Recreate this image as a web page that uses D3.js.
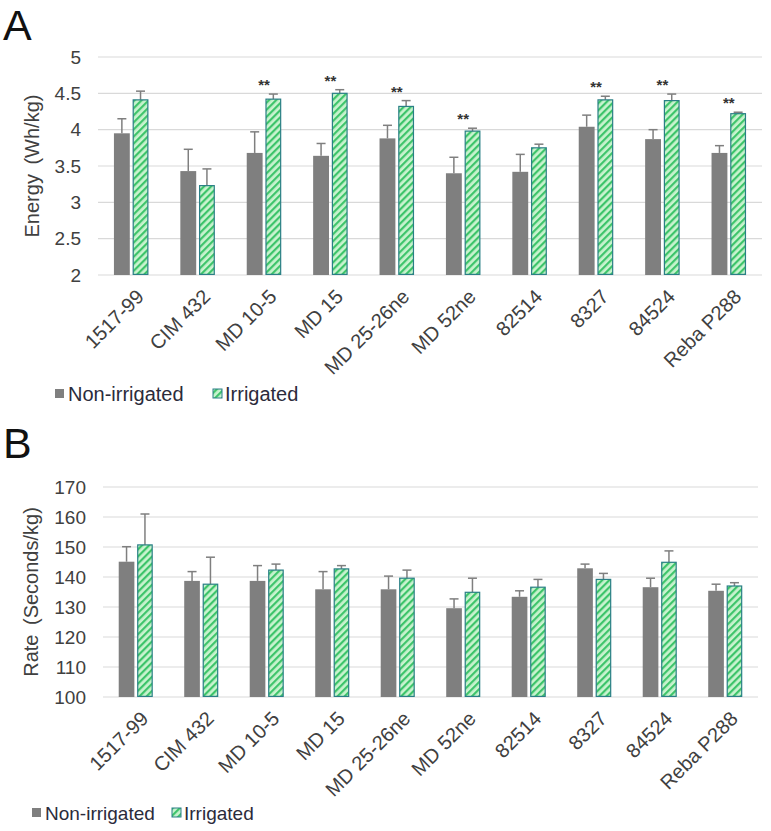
<!DOCTYPE html>
<html>
<head>
<meta charset="utf-8">
<script src="https://cdn.jsdelivr.net/npm/d3@7"></script>
<style>
  body { margin: 0; background: #fff; }
  text { font-family: "Liberation Sans", Arial, sans-serif; }
</style>
</head>
<body>
<svg id="chart" width="771" height="831"></svg>
<script>
// cultivars on the x axis (same for both panels)
var cultivars = ["1517-99", "CIM 432", "MD 10-5", "MD 15", "MD 25-26ne", "MD 52ne", "82514", "8327", "84524", "Reba P288"];
var seriesNames = ["Non-irrigated", "Irrigated"];

// panel A - energy (Wh/kg)
var energyNonIrr = [3.95, 3.43, 3.68, 3.64, 3.88, 3.40, 3.42, 4.04, 3.87, 3.68];
var energyNonIrrErr = [0.20, 0.30, 0.29, 0.17, 0.18, 0.22, 0.24, 0.16, 0.13, 0.10];
var energyIrr = [4.41, 3.23, 4.42, 4.50, 4.32, 3.98, 3.75, 4.41, 4.40, 4.22];
var energyIrrErr = [0.12, 0.23, 0.07, 0.05, 0.08, 0.04, 0.05, 0.05, 0.09, 0.02];
var energySig = ["", "", "**", "**", "**", "**", "", "**", "**", "**"];
var energyTicks = [2, 2.5, 3, 3.5, 4, 4.5, 5];

// panel B - rate (Seconds/kg)
var rateNonIrr = [145.1, 138.7, 138.7, 135.9, 135.9, 129.6, 133.4, 142.9, 136.6, 135.4];
var rateNonIrrErr = [5.0, 3.1, 5.1, 5.9, 4.4, 3.1, 2.0, 1.4, 3.0, 2.2];
var rateIrr = [150.7, 137.6, 142.3, 142.7, 139.6, 134.9, 136.6, 139.2, 144.9, 137.0];
var rateIrrErr = [10.3, 9.0, 2.0, 1.1, 2.7, 4.7, 2.6, 2.0, 3.8, 1.1];
var rateSig = ["", "", "", "", "", "", "", "", "", ""];
var rateTicks = [100, 110, 120, 130, 140, 150, 160, 170];

var svg = d3.select("#chart");

// hatch pattern for irrigated bars
var defs = svg.append("defs");
var pat = defs.append("pattern")
    .attr("id", "hatch")
    .attr("patternUnits", "userSpaceOnUse")
    .attr("width", 5)
    .attr("height", 5)
    .attr("patternTransform", "rotate(45)");
pat.append("rect").attr("width", 5).attr("height", 5).attr("fill", "#c9f3cf");
pat.append("rect").attr("width", 2.2).attr("height", 5).attr("fill", "#3dc46a");

drawPanel({
    letter: "A", letterY: 40,
    x0: 98, x1: 762, yTop: 57, yBottom: 275,
    domain: [2, 5], ticks: energyTicks,
    title: "Energy (Wh/kg)", titleX: 32,
    nonIrr: energyNonIrr, nonIrrErr: energyNonIrrErr,
    irr: energyIrr, irrErr: energyIrrErr, sig: energySig,
    legendY: 394, legendX: 55, legendGap: 158, fontSize: 19, legendFont: 20
});

drawPanel({
    letter: "B", letterY: 458,
    x0: 103, x1: 758, yTop: 487, yBottom: 697,
    domain: [100, 170], ticks: rateTicks,
    title: "Rate (Seconds/kg)", titleX: 31,
    nonIrr: rateNonIrr, nonIrrErr: rateNonIrrErr,
    irr: rateIrr, irrErr: rateIrrErr, sig: rateSig,
    legendY: 813, legendX: 32, legendGap: 140, fontSize: 19, legendFont: 19
});

function drawPanel(p) {
    var g = svg.append("g");

    var x = d3.scaleBand().domain(cultivars).range([p.x0, p.x1]).paddingInner(0.48).paddingOuter(0.24);
    var xs = d3.scaleBand().domain(seriesNames).range([0, x.bandwidth()]).paddingInner(0.15);
    var y = d3.scaleLinear().domain(p.domain).range([p.yBottom, p.yTop]);

    // panel letter
    g.append("text")
        .attr("x", 3).attr("y", p.letterY)
        .attr("font-size", 43)
        .attr("fill", "#111")
        .text(p.letter);

    // gridlines
    g.selectAll(".grid")
        .data(p.ticks)
        .enter()
        .append("line")
        .attr("x1", p.x0).attr("x2", p.x1)
        .attr("y1", function (d) { return y(d); })
        .attr("y2", function (d) { return y(d); })
        .attr("stroke", "#d9d9d9")
        .attr("stroke-width", 1.2);

    // y axis labels
    var yAxis = d3.axisLeft(y).tickValues(p.ticks).tickFormat(function (d) { return String(d); })
        .tickSize(0).tickPadding(0);
    var ya = g.append("g")
        .attr("transform", "translate(" + (p.x0 - 17) + ",0)")
        .call(yAxis);
    ya.select(".domain").remove();
    ya.selectAll("text")
        .attr("font-size", p.fontSize)
        .attr("fill", "#404040")
        .style("font-family", "'Liberation Sans', Arial, sans-serif");

    // y axis title
    g.append("text")
        .attr("transform", "translate(" + p.titleX + "," + ((p.yTop + p.yBottom) / 2) + ") rotate(-90)")
        .attr("text-anchor", "middle")
        .attr("dy", "0.35em")
        .attr("font-size", 20)
        .attr("word-spacing", 4)
        .attr("fill", "#404040")
        .text(p.title);

    // x axis labels
    var xAxis = d3.axisBottom(x).tickSize(0).tickPadding(0);
    var xa = g.append("g")
        .attr("transform", "translate(0," + p.yBottom + ")")
        .call(xAxis);
    xa.select(".domain").remove();
    xa.selectAll("text")
        .attr("font-size", 20)
        .attr("fill", "#404040")
        .style("font-family", "'Liberation Sans', Arial, sans-serif")
        .attr("text-anchor", "end")
        .attr("dy", "0.7em")
        .attr("transform", "translate(4,13) rotate(-45)");

    var rows = cultivars.map(function (c, i) {
        return { name: c, i: i, nonIrr: p.nonIrr[i], nonIrrErr: p.nonIrrErr[i],
                 irr: p.irr[i], irrErr: p.irrErr[i], sig: p.sig[i] };
    });

    // error bars (drawn under bars)
    var errData = [];
    rows.forEach(function (r) {
        errData.push({ cx: x(r.name) + xs("Non-irrigated") + xs.bandwidth() / 2, v: r.nonIrr, e: r.nonIrrErr });
        errData.push({ cx: x(r.name) + xs("Irrigated") + xs.bandwidth() / 2, v: r.irr, e: r.irrErr });
    });
    var eb = g.selectAll(".err").data(errData).enter().append("g");
    eb.append("line")
        .attr("x1", function (d) { return d.cx; })
        .attr("x2", function (d) { return d.cx; })
        .attr("y1", function (d) { return y(d.v); })
        .attr("y2", function (d) { return y(d.v + d.e); })
        .attr("stroke", "#7f7f7f").attr("stroke-width", 1.5);
    eb.append("line")
        .attr("x1", function (d) { return d.cx - 4.5; })
        .attr("x2", function (d) { return d.cx + 4.5; })
        .attr("y1", function (d) { return y(d.v + d.e); })
        .attr("y2", function (d) { return y(d.v + d.e); })
        .attr("stroke", "#7f7f7f").attr("stroke-width", 1.5);

    // non-irrigated bars
    g.selectAll(".barN")
        .data(rows)
        .enter()
        .append("rect")
        .attr("x", function (d) { return x(d.name) + xs("Non-irrigated"); })
        .attr("width", xs.bandwidth())
        .attr("y", function (d) { return y(d.nonIrr); })
        .attr("height", function (d) { return p.yBottom - y(d.nonIrr); })
        .attr("fill", "#7f7f7f");

    // irrigated bars
    g.selectAll(".barI")
        .data(rows)
        .enter()
        .append("rect")
        .attr("x", function (d) { return x(d.name) + xs("Irrigated") + 0.6; })
        .attr("width", xs.bandwidth() - 1.2)
        .attr("y", function (d) { return y(d.irr); })
        .attr("height", function (d) { return p.yBottom - y(d.irr) - 0.6; })
        .attr("fill", "url(#hatch)")
        .attr("stroke", "#2a7f86")
        .attr("stroke-width", 1.2);

    // significance stars
    g.selectAll(".sig")
        .data(rows.filter(function (d) { return d.sig; }))
        .enter()
        .append("text")
        .attr("x", function (d) { return x(d.name) + x.bandwidth() / 2; })
        .attr("y", function (d) { return Math.min(y(d.nonIrr + d.nonIrrErr), y(d.irr + d.irrErr)) - 4; })
        .attr("text-anchor", "middle")
        .attr("font-size", 15)
        .attr("font-weight", "bold")
        .attr("fill", "#333")
        .text(function (d) { return d.sig; });

    // legend
    var lg = g.append("g").attr("transform", "translate(" + p.legendX + "," + p.legendY + ")");
    lg.append("rect").attr("x", 0).attr("y", -5).attr("width", 9).attr("height", 9).attr("fill", "#7f7f7f");
    lg.append("text").attr("x", 13).attr("y", 0).attr("dy", "0.35em")
        .attr("font-size", p.legendFont).attr("fill", "#2b2b3b").text(seriesNames[0]);
    lg.append("rect").attr("x", p.legendGap).attr("y", -5).attr("width", 9).attr("height", 9)
        .attr("fill", "url(#hatch)").attr("stroke", "#2a7f86").attr("stroke-width", 1);
    lg.append("text").attr("x", p.legendGap + 12).attr("y", 0).attr("dy", "0.35em")
        .attr("font-size", p.legendFont).attr("fill", "#2b2b3b").text(seriesNames[1]);
}
</script>
</body>
</html>
